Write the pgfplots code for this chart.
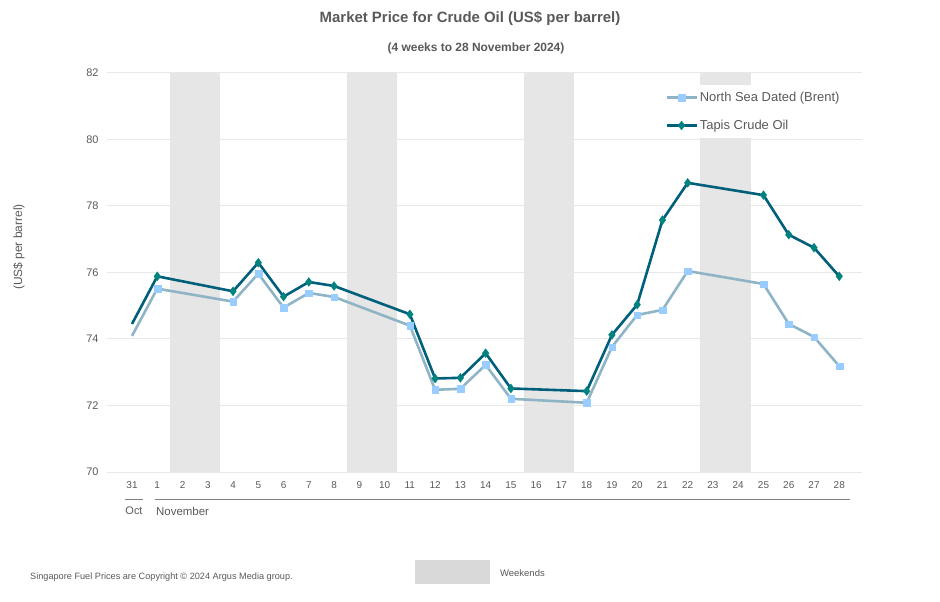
\documentclass[border=0pt]{standalone}
\usepackage{pgfplots}
\pgfplotsset{compat=1.18}
\usepackage{fontspec}
\setmainfont{Liberation Sans}
\definecolor{txt}{HTML}{595959}
\definecolor{brentline}{HTML}{8EB4C6}
\definecolor{brentmark}{HTML}{99CCFF}
\definecolor{tapisline}{HTML}{005F7A}
\definecolor{tapismark}{HTML}{00827F}
\definecolor{band}{HTML}{E6E6E6}
\definecolor{gridc}{HTML}{E8E8E8}
\definecolor{keyc}{HTML}{D9D9D9}
\definecolor{sepc}{HTML}{808080}

\pgfplotstableread{
x brent tapis
0 74.09 74.45
1 75.51 75.88
4 75.12 75.43
5 75.96 76.29
6 74.94 75.27
7 75.38 75.71
8 75.26 75.59
11 74.40 74.74
12 72.47 72.81
13 72.50 72.83
14 73.22 73.57
15 72.20 72.51
18 72.08 72.43
19 73.76 74.12
20 74.72 75.03
21 74.87 77.57
22 76.04 78.69
25 75.65 78.32
26 74.45 77.13
27 74.06 76.74
28 73.18 75.88
}\prices

\begin{document}
\begin{tikzpicture}[x=1bp,y=1bp]
\path[use as bounding box] (0,0) rectangle (940,602);
\begin{axis}[
  at={(107bp,130bp)}, anchor=south west,
  scale only axis, width=755bp, height=399.3bp,
  xmin=-0.99, xmax=28.9, ymin=70, ymax=82,
  axis line style={draw=none},
  /pgf/number format/assume math mode=true,
  ytick={70,72,...,82},
  ymajorgrids, grid style={gridc, line width=0.9bp},
  xtick={0,...,28},
  xticklabels={31,1,2,3,4,5,6,7,8,9,10,11,12,13,14,15,16,17,18,19,20,21,22,23,24,25,26,27,28},
  major tick length=0pt,
  tick style={draw=none},
  xticklabel style={font=\fontsize{10}{12}\selectfont, text=txt, yshift=-6bp},
  yticklabel style={font=\fontsize{11}{13}\selectfont, text=txt, xshift=-5bp},
  legend style={at={(0.7325,0.9692)}, anchor=north west, draw=none, fill=white,
    font=\fontsize{13}{15}\selectfont, text=txt, row sep=13bp, inner xsep=5bp, inner ysep=5bp},
  legend cell align=left,
  legend image code/.code={\draw[#1, mark=none] (0bp,0bp) -- (30bp,0bp); \draw[#1, mark indices={1}] plot coordinates {(15bp,0bp)};},
]
\fill[band] (axis cs:1.5,70) rectangle (axis cs:3.5,82);
\fill[band] (axis cs:8.5,70) rectangle (axis cs:10.5,82);
\fill[band] (axis cs:15.5,70) rectangle (axis cs:17.5,82);
\fill[band] (axis cs:22.5,70) rectangle (axis cs:24.5,82);
\addplot[brentline, line width=2.6bp, mark=square*, mark size=3.3bp,
  mark options={draw=brentmark, fill=brentmark, line width=0.1bp}, mark indices={2,...,21}]
  table[x=x, y=brent] {\prices};
\addlegendentry{North Sea Dated (Brent)}
\addplot[tapisline, line width=2.6bp, mark=diamond*, mark size=4.6bp,
  mark options={draw=tapismark, fill=tapismark, line width=0.1bp}, mark indices={2,...,21}]
  table[x=x, y=tapis] {\prices};
\addlegendentry{Tapis Crude Oil}
\end{axis}
\node[font=\bfseries\fontsize{15}{18}\selectfont, text=txt] at (470,583) {Market Price for Crude Oil (US\$ per barrel)};
\node[font=\bfseries\fontsize{12}{14}\selectfont, text=txt] at (476,554) {(4 weeks to 28 November 2024)};
\node[rotate=90, font=\fontsize{12}{14}\selectfont, text=txt] at (19,355) {(US\$ per barrel)};
\draw[sepc, line width=0.9bp] (125,103) -- (143,103);
\draw[sepc, line width=0.9bp] (155,103) -- (850,103);
\node[font=\fontsize{11}{13}\selectfont, text=txt] at (134,91) {Oct};
\node[font=\fontsize{11.5}{13}\selectfont, text=txt, anchor=west, inner xsep=0pt] at (156,91) {November};
\node[font=\fontsize{9.2}{11}\selectfont, text=txt, anchor=west, inner xsep=0pt] at (30,25) {Singapore Fuel Prices are Copyright © 2024 Argus Media group.};
\fill[keyc] (415,18) rectangle (490,42);
\node[font=\fontsize{9.5}{11}\selectfont, text=txt, anchor=west, inner xsep=0pt] at (500,29) {Weekends};
\end{tikzpicture}
\end{document}
